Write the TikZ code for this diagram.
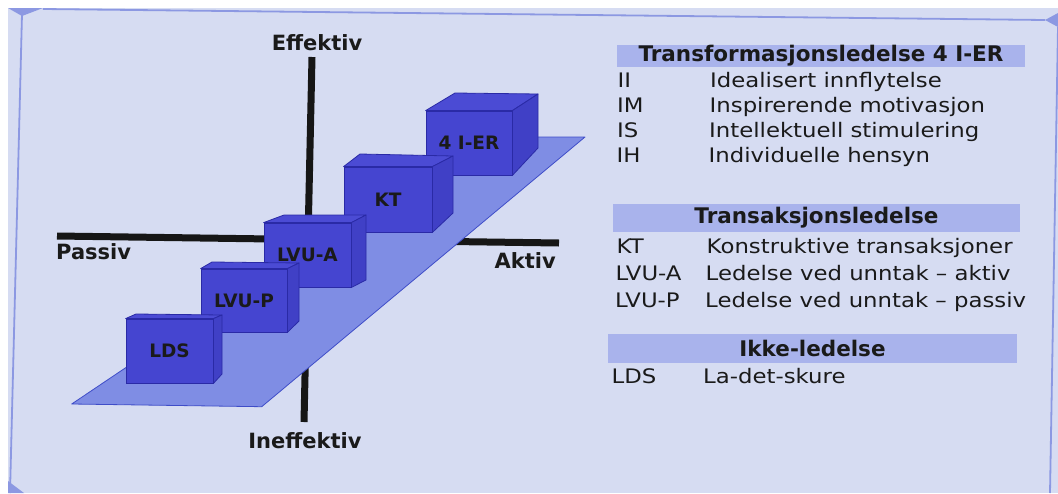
\documentclass[tikz,border=0pt]{standalone}
\usepackage{fontspec}
\setmainfont{DejaVu Sans}
\newfontfamily\bodyfont[FakeStretch=1.14]{DejaVu Sans}
\definecolor{bgblue}{HTML}{D6DCF2}
\definecolor{framec}{HTML}{8C98E2}
\definecolor{barblue}{HTML}{A9B3EC}
\definecolor{planec}{HTML}{7F8DE4}
\definecolor{planeline}{HTML}{3F4DC8}
\definecolor{cubeblue}{HTML}{4545D0}
\definecolor{cubetopc}{HTML}{4B4BD4}
\definecolor{cubesidec}{HTML}{4040C6}
\definecolor{cubeline}{HTML}{2A2AA6}
\definecolor{axisc}{HTML}{161616}
\definecolor{textdark}{HTML}{1A1A1A}
\newcommand{\mkcube}[8]{%
  \node[cubefront, minimum width=#3, minimum height=#4] (#1) at (#2) {#8};
  \filldraw[cubetop] (#1.north west) -- (#5) -- (#6) -- (#1.north east) -- cycle;
  \filldraw[cubeside] (#1.north east) -- (#6) -- (#7) -- (#1.south east) -- cycle;
}
\begin{document}
\begin{tikzpicture}[x=1pt,y=-1pt,
  cubefront/.style={draw=cubeline, fill=cubeblue, line width=0.8pt, inner sep=0pt,
    font=\bfseries\fontsize{18.5}{20}\selectfont, text=textdark},
  cubetop/.style={draw=cubeline, fill=cubetopc, line width=0.8pt, line join=round},
  cubeside/.style={draw=cubeline, fill=cubesidec, line width=0.8pt, line join=round},
  axisline/.style={line width=7pt, draw=axisc},
  axislabel/.style={font=\bfseries\fontsize{21}{24}\selectfont, text=textdark, inner sep=0pt},
  hbar/.style={fill=barblue, inner sep=0pt, font=\bfseries\fontsize{21.5}{24}\selectfont, text=textdark},
  rowtext/.style={font=\bodyfont\fontsize{20}{22}\selectfont, text=textdark, inner sep=0pt, anchor=base west},
  frameline/.style={draw=framec, line width=1.8pt},
  planestyle/.style={fill=planec, draw=planeline, line width=0.8pt, line join=round}
]
\useasboundingbox (0,0) rectangle (1058,493);
% background and frame
\fill[white] (0,0) rectangle (1058,493);
\fill[bgblue] (8,8) rectangle (1058,493);
\draw[frameline] (43,9) -- (1045,20);
\draw[frameline] (22,14) -- (10,493);
\draw[frameline] (1058,27) -- (1050,493);
\fill[framec] (8,8) -- (43,8) -- (22,16) -- cycle;
\fill[framec] (1058,13) -- (1045,20) -- (1058,27) -- cycle;
\fill[framec] (8,481) -- (8,493) -- (24,493) -- cycle;

% axes
\coordinate (vtop) at (312,57);
\coordinate (vbot) at (304,422);
\coordinate (hleft) at (57,236);
\coordinate (hright) at (559,243);
\draw[axisline] (vtop) -- (vbot);
\draw[axisline] (hleft) -- (hright);

% plane
\coordinate (pbl) at (71.7,404);
\coordinate (pbr) at (261.7,406.7);
\coordinate (ptr) at (585,137);
\coordinate (ptl) at (469,137);
\filldraw[planestyle] (pbl) -- (pbr) -- (ptr) -- (ptl) -- cycle;

% axis labels
\node[axislabel, anchor=base] (effektiv) at (317,50) {Effektiv};
\node[axislabel, anchor=base west] (passiv) at (56,259) {Passiv};
\node[axislabel, anchor=base east] (aktiv) at (556,268) {Aktiv};
\node[axislabel, anchor=base] (ineffektiv) at (305,448) {Ineffektiv};

% cubes (back to front)
\mkcube{ier}{469,143}{86pt}{64pt}{455,93}{538,94}{538,148}{4 I-ER}
\mkcube{kt}{388,199.5}{88pt}{65pt}{360,154}{453,156}{453,213}{KT}
\mkcube{lvua}{307.5,255}{87pt}{64pt}{284,215}{366,215}{366,280}{LVU-A}
\mkcube{lvup}{244,300.5}{86pt}{63pt}{212,262}{299,263}{299,321}{LVU-P}
\mkcube{lds}{169.5,351}{87pt}{64pt}{136,314}{222,315}{222,374}{LDS}

% table 1
\node[hbar, minimum width=408pt, minimum height=22pt] (h1) at (821,55.5) {Transformasjonsledelse 4 I-ER};
\node[rowtext] (k1) at (617.5,87) {II};
\node[rowtext] (d1) at (710,87) {Idealisert innflytelse};
\node[rowtext] (k2) at (617,112) {IM};
\node[rowtext] (d2) at (709.5,112) {Inspirerende motivasjon};
\node[rowtext] (k3) at (617,137) {IS};
\node[rowtext] (d3) at (709,137) {Intellektuell stimulering};
\node[rowtext] (k4) at (616.5,162) {IH};
\node[rowtext] (d4) at (708.5,162) {Individuelle hensyn};

% table 2
\node[hbar, minimum width=407pt, minimum height=28pt] (h2) at (816.5,218) {Transaksjonsledelse};
\node[rowtext] (k5) at (616.5,253) {KT};
\node[rowtext] (d5) at (706.5,253) {Konstruktive transaksjoner};
\node[rowtext] (k6) at (615.5,280) {LVU-A};
\node[rowtext] (d6) at (705.5,280) {Ledelse ved unntak – aktiv};
\node[rowtext] (k7) at (615,307) {LVU-P};
\node[rowtext] (d7) at (705,307) {Ledelse ved unntak – passiv};

% table 3
\node[hbar, minimum width=409pt, minimum height=29pt] (h3) at (812.5,348.5) {Ikke-ledelse};
\node[rowtext] (k8) at (611.5,383) {LDS};
\node[rowtext] (d8) at (703,383) {La-det-skure};
\end{tikzpicture}
\end{document}
